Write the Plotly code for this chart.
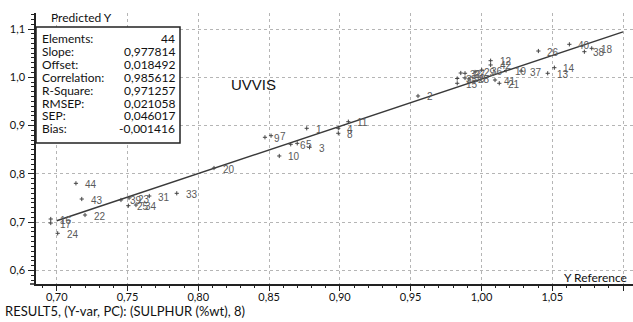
import plotly.graph_objects as go

# Sample numbers and their (reference, predicted) values
sample_ids = [44, 43, 22, 16, 17, 24,
              39, 23, 25, 34, 31, 33, 20, 9, 7, 10, 6, 5, 3, 1, 4, 8, 11, 2,
              32, 27, 29, 35, 30, 28, 15, 36, 42, 12, 41, 21, 19, 37, 26, 13, 14, 40, 38, 18]
y_reference = [0.7136, 0.7177, 0.7200, 0.6958, 0.6958, 0.7007,
               0.7454, 0.7511, 0.7506, 0.7560, 0.7654, 0.7848, 0.8111, 0.8471, 0.8514, 0.8572,
               0.8653, 0.8699, 0.8786, 0.8766, 0.8989, 0.8989, 0.9060, 0.9552,
               0.9854, 0.9884, 0.9955, 0.9829, 0.9884, 0.9912, 0.9829, 1.0002, 1.0065, 1.0065,
               1.0096, 1.0126, 1.0174, 1.0280, 1.0402, 1.0468, 1.0515, 1.0621, 1.0727, 1.0779]
y_predicted = [0.7805, 0.7480, 0.7149, 0.7066, 0.6983, 0.6770,
               0.7460, 0.7501, 0.7342, 0.7356, 0.7542, 0.7598, 0.8122, 0.8758, 0.8791, 0.8371,
               0.8613, 0.8633, 0.8551, 0.8944, 0.8944, 0.8841, 0.9081, 0.9613,
               1.0089, 1.0083, 1.0110, 0.9975, 0.9986, 0.9965, 0.9876, 1.0151, 1.0255, 1.0344,
               0.9944, 0.9876, 1.0141, 1.0130, 1.0544, 1.0083, 1.0199, 1.0683, 1.0530, 1.0600]

# Regression statistics
stat_names = ["Elements:", "Slope:", "Offset:", "Correlation:", "R-Square:", "RMSEP:", "SEP:", "Bias:"]
stat_values = ["44", "0,977814", "0,018492", "0,985612", "0,971257", "0,021058", "0,046017", "-0,001416"]
slope = 0.977814
offset = 0.018492
line_x = [0.70, 1.10]

x_ticks = [0.70, 0.75, 0.80, 0.85, 0.90, 0.95, 1.00, 1.05, 1.10]
y_ticks = [0.6, 0.7, 0.8, 0.9, 1.0, 1.1]

W, H = 633, 322
L, R, T, B = 36, 0, 13, 38
PW, PH = W - L - R, H - T - B

def px_x(p):
    return (p - L) / PW

def px_y(p):
    return (H - B - p) / PH

GEO = "Lato, 'DejaVu Sans', sans-serif"
ARIAL = "'Liberation Sans', Arial, sans-serif"

fig = go.Figure()

# Regression line
fig.add_trace(go.Scatter(
    x=line_x, y=[slope * v + offset for v in line_x],
    mode="lines", line=dict(color="#3a3a3a", width=1.5),
    hoverinfo="skip", showlegend=False))

# Sample markers
fig.add_trace(go.Scatter(
    x=y_reference, y=y_predicted, mode="markers",
    marker=dict(symbol="cross-thin", size=3, line=dict(width=1, color="#444")),
    showlegend=False))

annotations = []
for sid, xv, yv in zip(sample_ids, y_reference, y_predicted):
    annotations.append(dict(
        x=xv, y=yv, xref="x", yref="y", text=str(sid), showarrow=False,
        xanchor="left", yanchor="middle", xshift=7, yshift=-1,
        font=dict(family=ARIAL, size=10, color="#5a5a5a")))

# Statistics box
fig.add_shape(type="rect", xref="paper", yref="paper",
              x0=0, x1=px_x(180), y0=px_y(143), y1=px_y(27),
              fillcolor="white", line=dict(color="#222", width=1.5), layer="above")
for i, (n, v) in enumerate(zip(stat_names, stat_values)):
    yy = px_y(38.5 + i * 12.9)
    annotations.append(dict(x=px_x(40), y=yy, xref="paper", yref="paper", text=n,
                            showarrow=False, xanchor="left", yanchor="middle",
                            font=dict(family=GEO, size=12, color="#111")))
    annotations.append(dict(x=px_x(177), y=yy, xref="paper", yref="paper", text=v,
                            showarrow=False, xanchor="right", yanchor="middle",
                            font=dict(family=GEO, size=12, color="#111")))

annotations += [
    dict(x=px_x(49), y=px_y(18), xref="paper", yref="paper", text="Predicted Y",
         showarrow=False, xanchor="left", yanchor="middle",
         font=dict(family=GEO, size=12, color="#111")),
    dict(x=px_x(629), y=px_y(277), xref="paper", yref="paper", text="Y Reference",
         showarrow=False, xanchor="right", yanchor="middle",
         font=dict(family=GEO, size=12, color="#111")),
    dict(x=px_x(229), y=px_y(85), xref="paper", yref="paper", text="UVVIS",
         showarrow=False, xanchor="left", yanchor="middle",
         font=dict(family=ARIAL, size=15, color="#111")),
    dict(x=px_x(3), y=px_y(311), xref="paper", yref="paper",
         text="RESULT5, (Y-var, PC): (SULPHUR (%wt), 8)",
         showarrow=False, xanchor="left", yanchor="middle",
         font=dict(family=GEO, size=13, color="#111")),
]

# Bottom-left stub of the reference axis line
fig.add_shape(type="line", xref="paper", yref="paper",
              x0=-6 / PW, x1=0, y0=0, y1=0, line=dict(color="#222", width=1.5))

x_lo = 0.70 - (56.7 - L) / 1415.8
x_hi = 0.70 + (W - 56.7) / 1415.8
y_lo = 0.6 - (284 - 270.5) / 483
y_hi = 0.6 + (270.5 - 13) / 483

fig.update_layout(
    width=W, height=H,
    margin=dict(l=L, r=R, t=T, b=B),
    paper_bgcolor="white", plot_bgcolor="white",
    separators=",.",
    annotations=annotations,
    xaxis=dict(range=[x_lo, x_hi], tickvals=x_ticks, tickformat=".2f",
               showline=True, linecolor="#222", linewidth=1.5,
               ticks="outside", ticklen=5, tickcolor="#222", tickwidth=1,
               minor=dict(dtick=0.01, tick0=0.70, ticks="outside", ticklen=2, tickcolor="#222", showgrid=False),
               showgrid=True, gridcolor="#b5b5b5", griddash="dot", gridwidth=1,
               zeroline=False, ticklabelstandoff=-3,
               tickfont=dict(family=GEO, size=11, color="#111")),
    yaxis=dict(range=[y_lo, y_hi], tickvals=y_ticks, tickformat=".1f",
               showline=True, linecolor="#222", linewidth=1.5,
               ticks="outside", ticklen=6, tickcolor="#222", tickwidth=1,
               minor=dict(dtick=0.01, tick0=0.6, ticks="outside", ticklen=3, tickcolor="#222", showgrid=False),
               showgrid=True, gridcolor="#b5b5b5", griddash="dot", gridwidth=1,
               zeroline=False, ticklabelstandoff=1,
               tickfont=dict(family=GEO, size=11, color="#111")),
)

fig.write_html("out.html")
